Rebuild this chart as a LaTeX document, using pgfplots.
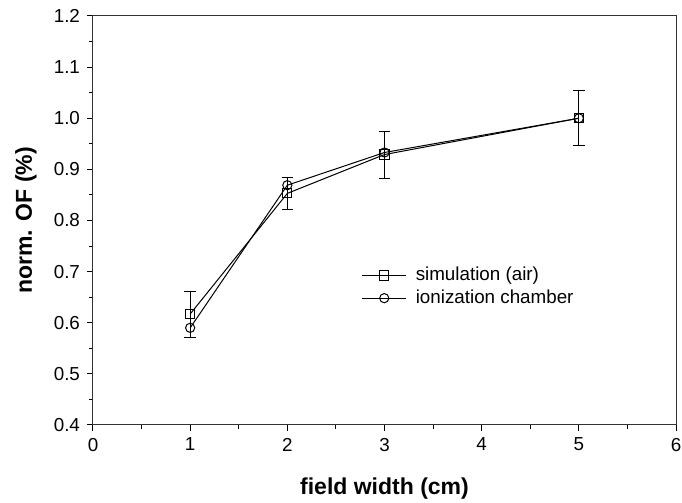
\documentclass[border=0pt]{standalone}
\usepackage{pgfplots}
\pgfplotsset{compat=1.18}
\usepackage{fontspec}
\setmainfont{Liberation Sans}
\begin{document}
\begin{tikzpicture}
\begin{axis}[
  name=ax,
  scale only axis,
  width=291.5pt, height=204.5pt,
  xmin=0, xmax=6, ymin=0.4, ymax=1.2,
  xtick={0,1,2,3,4,5,6},
  ytick={0.4,0.5,0.6,0.7,0.8,0.9,1.0,1.1,1.2},
  minor xtick={0.5,1.5,2.5,3.5,4.5,5.5},
  minor ytick={0.45,0.55,0.65,0.75,0.85,0.95,1.05,1.15},
  xtick pos=left, ytick pos=left,
  tick align=outside,
  major tick length=3pt, minor tick length=2pt,
  every tick/.style={black, line width=0.5pt},
  axis line style={line width=0.5pt, black!80},
  yticklabel style={/pgf/number format/.cd, fixed, fixed zerofill, precision=1},
  /pgf/number format/assume math mode=true,
  tick label style={font=\fontsize{9.4}{11}\selectfont},
  every axis x label/.style={at={(rel axis cs:0.5,0)}, yshift=-32pt, anchor=center},
  every axis y label/.style={at={(rel axis cs:0,0.5)}, xshift=-33.5pt, rotate=90, anchor=center},
  label style={font=\fontsize{11.5}{13}\selectfont\bfseries},
  xlabel={field width (cm)},
  ylabel={norm. OF (\%)},
  legend style={draw=none, fill=none, at={(axis cs:2.70,0.725)}, anchor=north west,
    font=\fontsize{9.4}{11}\selectfont, row sep=-1pt,
    /tikz/every odd column/.append style={column sep=2.5pt}},
  legend cell align=left,
  legend image code/.code={
    \draw[mark repeat=2, mark phase=2, #1] plot coordinates {(0pt,0pt) (11pt,0pt) (22pt,0pt)};
  },
]
\addplot[black, line width=0.5pt, mark=square, mark size=2.3pt,
  mark options={solid, line width=0.5pt},
  error bars/.cd, y dir=both, y explicit,
  error mark options={rotate=90, black, mark size=2.9pt, line width=0.5pt},
  error bar style={line width=0.5pt}]
  coordinates {
  (1,0.617) +- (0,0.045)
  (2,0.853) +- (0,0.032)
  (3,0.929) +- (0,0.046)
  (5,1.000) +- (0,0.054)
};
\addlegendentry{simulation (air)}
\addplot[black, line width=0.5pt, mark=o, mark size=2.3pt,
  mark options={solid, line width=0.5pt}]
  coordinates {
  (1,0.590)
  (2,0.869)
  (3,0.933)
  (5,1.000)
};
\addlegendentry{ionization chamber}
\end{axis}
\pgfresetboundingbox
\useasboundingbox ([xshift=-46.5pt,yshift=-39pt]ax.south west) rectangle ([xshift=3pt,yshift=8pt]ax.north east);
\end{tikzpicture}
\end{document}
